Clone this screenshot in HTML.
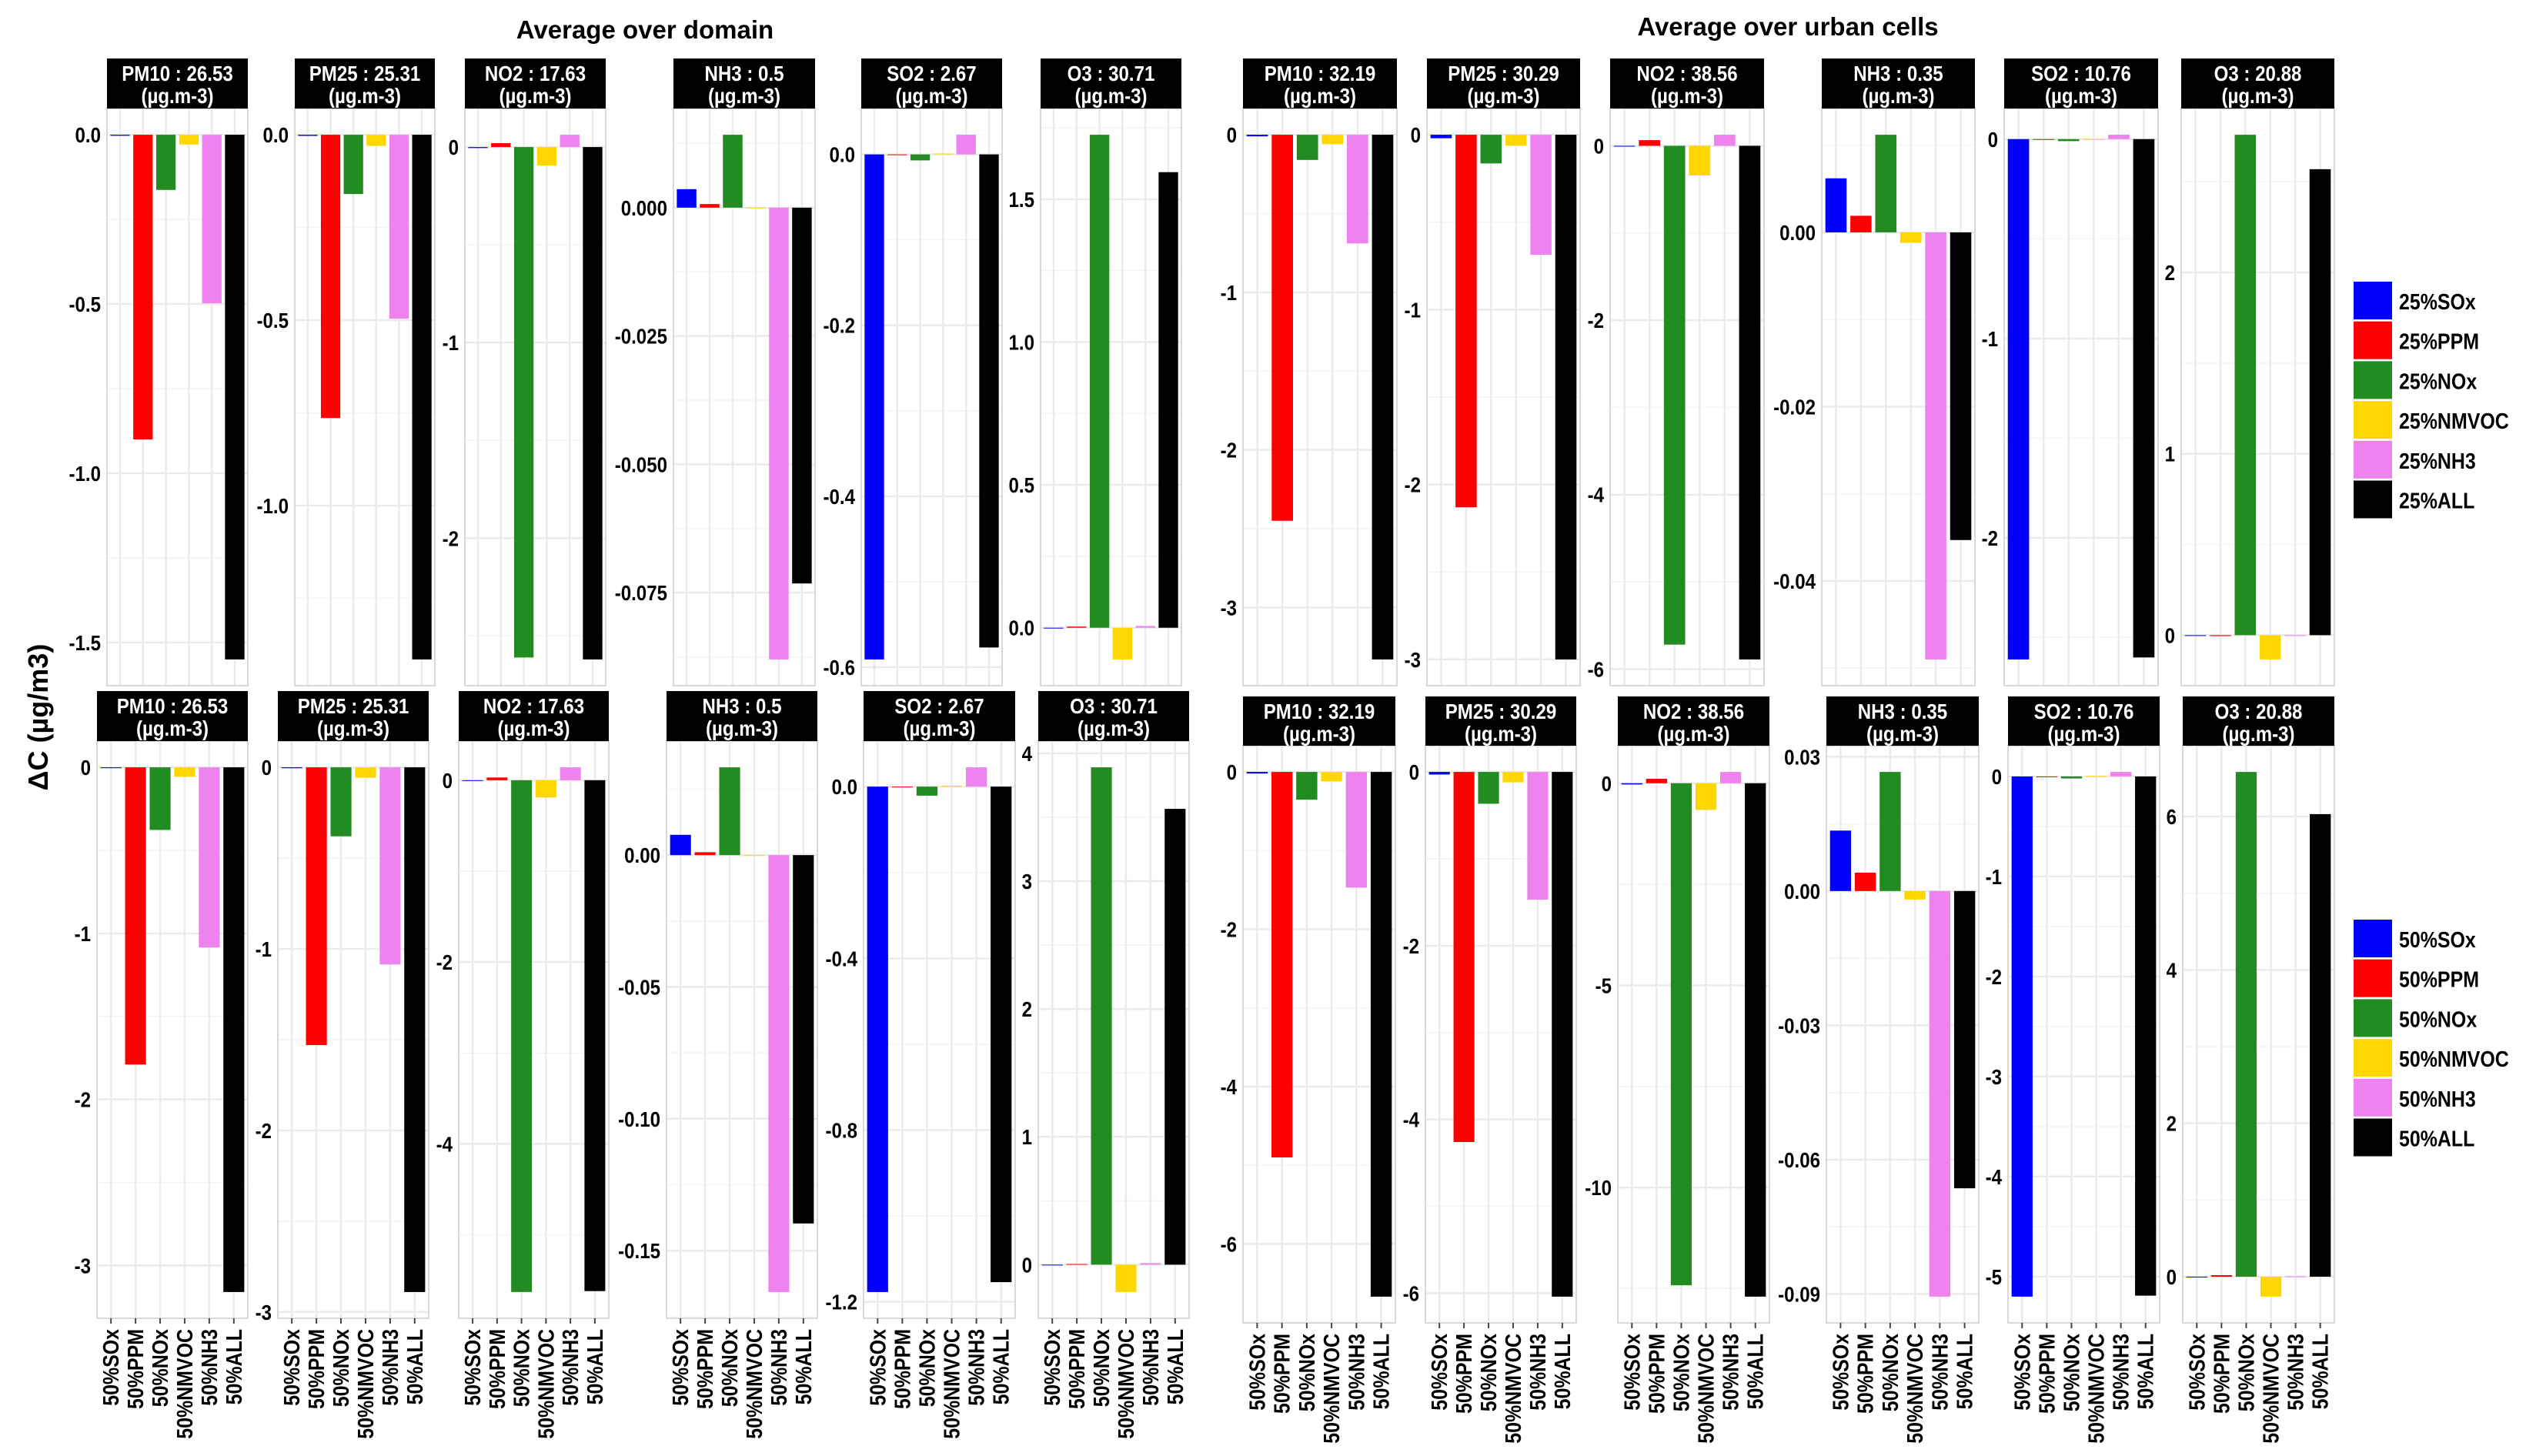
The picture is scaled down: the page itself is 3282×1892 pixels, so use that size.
<!DOCTYPE html>
<html><head><meta charset="utf-8"><style>
html,body{margin:0;padding:0;background:#fff;}
svg{display:block;}
text{font-family:"Liberation Sans",sans-serif;font-weight:bold;}
.title{font-family:"Liberation Sans","DejaVu Sans",sans-serif;}
</style></head><body>
<svg id="chart" width="3282" height="1892" viewBox="0 0 3282 1892" xmlns="http://www.w3.org/2000/svg">
<rect width="3282" height="1892" fill="#fff"/>
<text class="title" x="838" y="50" font-size="33" text-anchor="middle">Average over domain</text>
<text class="title" x="2323" y="46" font-size="33" text-anchor="middle">Average over urban cells</text>
<text class="title" transform="translate(62,932) rotate(-90)" font-size="36" text-anchor="middle">ΔC (µg/m3)</text>
<g id="panels"></g>
<g id="legends"></g>
</svg>
<script>
const cats25 = ["25%SOx","25%PPM","25%NOx","25%NMVOC","25%NH3","25%ALL"];
const cats50 = ["50%SOx","50%PPM","50%NOx","50%NMVOC","50%NH3","50%ALL"];
const barColors = ["#0000FF","#FF0000","#228B22","#FFD700","#EE82EE","#000000"];

const pollutants = ["PM10","PM25","NO2","NH3","SO2","O3"];
const domainMeans = ["26.53","25.31","17.63","0.5","2.67","30.71"];
const urbanMeans = ["32.19","30.29","38.56","0.35","10.76","20.88"];

// 25% reductions, domain average
const d25PM10 = [-0.003,-0.90,-0.163,-0.029,-0.498,-1.55];
const d25PM25 = [-0.003,-0.764,-0.16,-0.03,-0.496,-1.415];
const d25NO2  = [-0.005,0.02,-2.61,-0.095,0.063,-2.62];
const d25NH3  = [0.0036,0.0007,0.0142,0,-0.088,-0.0732];
const d25SO2  = [-0.591,0,-0.007,0.001,0.023,-0.577];
const d25O3   = [-0.002,0.004,1.726,-0.111,0.006,1.595];
// 25% reductions, urban average
const u25PM10 = [-0.01,-2.45,-0.16,-0.06,-0.69,-3.33];
const u25PM25 = [-0.02,-2.13,-0.164,-0.063,-0.686,-3.0];
const u25NO2  = [-0.005,0.065,-5.72,-0.34,0.127,-5.89];
const u25NH3  = [0.0062,0.0019,0.0112,-0.0012,-0.049,-0.0353];
const u25SO2  = [-2.61,0,-0.01,0,0.022,-2.6];
const u25O3   = [0,-0.005,2.76,-0.134,0,2.57];
// 50% reductions, domain average
const d50PM10 = [-0.005,-1.79,-0.377,-0.057,-1.085,-3.16];
const d50PM25 = [-0.005,-1.53,-0.38,-0.057,-1.086,-2.89];
const d50NO2  = [-0.005,0.03,-5.63,-0.19,0.142,-5.62];
const d50NH3  = [0.0077,0.0011,0.0333,0,-0.1657,-0.1397];
const d50SO2  = [-1.177,0,-0.021,0.002,0.045,-1.154];
const d50O3   = [0,0.005,3.89,-0.214,0.012,3.565];
// 50% reductions, urban average
const u50PM10 = [-0.02,-4.9,-0.353,-0.12,-1.47,-6.67];
const u50PM25 = [-0.03,-4.26,-0.366,-0.12,-1.47,-6.04];
const u50NO2  = [-0.03,0.11,-12.42,-0.66,0.28,-12.7];
const u50NH3  = [0.0135,0.0041,0.0266,-0.0019,-0.0906,-0.0664];
const u50SO2  = [-5.2,0,-0.02,0.005,0.045,-5.19];
const u50O3   = [0,0.02,6.58,-0.26,0.005,6.03];

// tick values
const t25dom = [[0,-0.5,-1,-1.5],[0,-0.5,-1],[0,-1,-2],[0,-0.025,-0.05,-0.075],[0,-0.2,-0.4,-0.6],[0,0.5,1,1.5]];
const l25dom = [["0.0","-0.5","-1.0","-1.5"],["0.0","-0.5","-1.0"],["0","-1","-2"],["0.000","-0.025","-0.050","-0.075"],["0.0","-0.2","-0.4","-0.6"],["0.0","0.5","1.0","1.5"]];
const t25urb = [[0,-1,-2,-3],[0,-1,-2,-3],[0,-2,-4,-6],[0,-0.02,-0.04],[0,-1,-2],[0,1,2]];
const l25urb = [["0","-1","-2","-3"],["0","-1","-2","-3"],["0","-2","-4","-6"],["0.00","-0.02","-0.04"],["0","-1","-2"],["0","1","2"]];
const t50dom = [[0,-1,-2,-3],[0,-1,-2,-3],[0,-2,-4],[0,-0.05,-0.1,-0.15],[0,-0.4,-0.8,-1.2],[0,1,2,3,4]];
const l50dom = [["0","-1","-2","-3"],["0","-1","-2","-3"],["0","-2","-4"],["0.00","-0.05","-0.10","-0.15"],["0.0","-0.4","-0.8","-1.2"],["0","1","2","3","4"]];
const t50urb = [[0,-2,-4,-6],[0,-2,-4,-6],[0,-5,-10],[0.03,0,-0.03,-0.06,-0.09],[0,-1,-2,-3,-4,-5],[0,2,4,6]];
const l50urb = [["0","-2","-4","-6"],["0","-2","-4","-6"],["0","-5","-10"],["0.03","0.00","-0.03","-0.06","-0.09"],["0","-1","-2","-3","-4","-5"],["0","2","4","6"]];

// layout (pixel geometry)
const rows = [
 {vals:[d25PM10,d25PM25,d25NO2,d25NH3,d25SO2,d25O3], ticks:t25dom, labs:l25dom, means:domainMeans, xs:[[139,322],[383,565],[604,787],[875,1059],[1119,1302],[1352,1535]], top:76, sb:141, bot:891, xl:false, key:"top-domain"},
 {vals:[u25PM10,u25PM25,u25NO2,u25NH3,u25SO2,u25O3], ticks:t25urb, labs:l25urb, means:urbanMeans, xs:[[1615,1815],[1854,2053],[2092,2292],[2367,2566],[2604,2804],[2834,3033]], top:76, sb:141, bot:891, xl:false, key:"top-urban"},
 {vals:[d50PM10,d50PM25,d50NO2,d50NH3,d50SO2,d50O3], ticks:t50dom, labs:l50dom, means:domainMeans, xs:[[126,322],[361,557],[596,791],[866,1062],[1122,1319],[1349,1545]], top:898, sb:963, bot:1713, xl:true, key:"bottom-domain"},
 {vals:[u50PM10,u50PM25,u50NO2,u50NH3,u50SO2,u50O3], ticks:t50urb, labs:l50urb, means:urbanMeans, xs:[[1615,1813],[1852,2048],[2102,2299],[2373,2571],[2609,2806],[2836,3033]], top:905, sb:969, bot:1719, xl:true, key:"bottom-urban"}
];
const NS = "http://www.w3.org/2000/svg";
function mk(tag, attrs, parent){const e=document.createElementNS(NS,tag);for(const k in attrs)e.setAttribute(k,attrs[k]);parent.appendChild(e);return e;}
const narrowTexts = [];
const root = document.getElementById("panels");

rows.forEach(function(row, ri){
  row.vals.forEach(function(vals, pi){
    const x0=row.xs[pi][0], x1=row.xs[pi][1], W=x1-x0;
    const g = mk("g",{},root);
    
    
    let lo=Math.min(0,...vals), hi=Math.max(0,...vals);
    const pad=(hi-lo)*0.05; lo-=pad; hi+=pad;
    const yS=function(v){return row.bot-(v-lo)/(hi-lo)*(row.bot-row.sb);};
    const unit=W/6.14;
    const xc=function(i){return x0+unit*(0.57+i);};
    mk("rect",{x:x0,y:row.sb,width:W,height:row.bot-row.sb,fill:"#fff"},g);
    const tk=row.ticks[pi].slice().sort(function(a,b){return a-b;});
    const step=tk.length>1?tk[1]-tk[0]:1;
    for(let v=tk[0]-step/2; v<=hi; v+=step){
      if(v<lo) continue;
      mk("line",{x1:x0,x2:x1,y1:yS(v),y2:yS(v),stroke:"#f4f4f4","stroke-width":1.5},g);
    }
    row.ticks[pi].forEach(function(t,ti){
      const yy=yS(t);
      mk("line",{x1:x0,x2:x1,y1:yy,y2:yy,stroke:"#ebebeb","stroke-width":2.5},g);
      const tl=mk("text",{x:x0-8,y:yy+10,"font-size":28,"text-anchor":"end",fill:"#000"},g);
      
      
      tl.textContent=row.labs[pi][ti];
      narrowTexts.push(tl);
    });
    for(let i=0;i<6;i++) mk("line",{x1:xc(i),x2:xc(i),y1:row.sb,y2:row.bot,stroke:"#ebebeb","stroke-width":2.5},g);
    vals.forEach(function(v,i){
      const ya=yS(Math.max(v,0)), yb=yS(Math.min(v,0));
      const b=mk("rect",{x:xc(i)-unit*0.425,y:ya,width:unit*0.85,height:Math.max(yb-ya,1),fill:barColors[i]},g);
      
      
    });
    mk("rect",{x:x0,y:row.sb,width:W,height:row.bot-row.sb,fill:"none",stroke:"#d9d9d9","stroke-width":2},g);
    const st=mk("rect",{x:x0,y:row.top,width:W,height:row.sb-row.top,fill:"#000"},g);
    
    
    const cx=(x0+x1)/2;
    const s1=mk("text",{x:cx,y:row.top+29,"font-size":28,"text-anchor":"middle",fill:"#fff"},g);
    
    
    s1.textContent=pollutants[pi]+" : "+row.means[pi];
    narrowTexts.push(s1);
    const s2=mk("text",{x:cx,y:row.top+58,"font-size":28,"text-anchor":"middle",fill:"#fff"},g);
    
    
    s2.textContent="(µg.m-3)";
    narrowTexts.push(s2);
    if(row.xl){
      for(let i=0;i<6;i++){
        mk("line",{x1:xc(i),x2:xc(i),y1:row.bot,y2:row.bot+7,stroke:"#444","stroke-width":2},g);
        const xt=mk("text",{transform:"translate("+(xc(i)+10)+","+(row.bot+14)+") rotate(-90)","font-size":29,"text-anchor":"end",fill:"#000"},g);
        
        
        xt.textContent=cats50[i];
        narrowTexts.push(xt);
      }
    }
  });
});

const lg=document.getElementById("legends");
[[cats25,366],[cats50,1195]].forEach(function(L,li){
  const g=mk("g",{},lg);
  
  
  L[0].forEach(function(c,i){
    const y=L[1]+i*51.7;
    const r=mk("rect",{x:3058,y:y,width:50,height:49,fill:barColors[i]},g);
    
    
    const t=mk("text",{x:3117,y:y+36,"font-size":29,fill:"#000"},g);
    
    
    t.textContent=c;
    narrowTexts.push(t);
  });
});

// emulate condensed font
narrowTexts.forEach(function(t){
  const len=t.getComputedTextLength();
  if(len>0){t.setAttribute("textLength",(len*0.86).toFixed(1));t.setAttribute("lengthAdjust","spacingAndGlyphs");}
});
</script>
</body></html>
